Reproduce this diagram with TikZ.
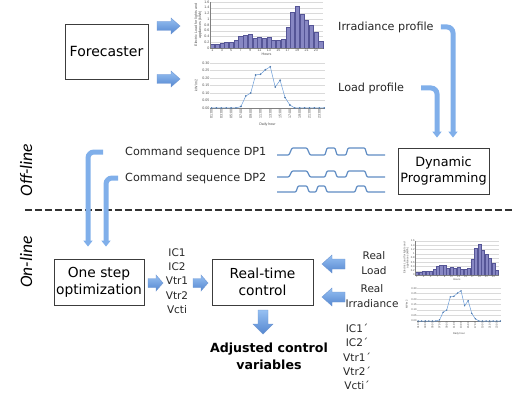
\documentclass[tikz,border=0pt]{standalone}
\usepackage{fontspec}
\setmainfont{DejaVu Sans}
\newfontfamily\chartfont{Liberation Sans}
\newfontfamily\sidefont{Carlito}
\usetikzlibrary{arrows.meta}

\definecolor{arrtop}{RGB}{150,192,242}
\definecolor{arrbot}{RGB}{85,135,208}
\definecolor{arredge}{RGB}{110,150,210}
\definecolor{tubec}{RGB}{128,175,234}
\definecolor{wavec}{RGB}{95,140,195}
\definecolor{barfill}{RGB}{135,135,195}
\definecolor{baredge}{RGB}{85,85,150}
\definecolor{linec}{RGB}{105,155,215}
\definecolor{gridc}{RGB}{218,218,218}
\definecolor{boxedge}{RGB}{60,60,60}

\tikzset{
  box/.style={draw=boxedge, line width=0.8pt, align=center, inner sep=0pt},
  lbl/.style={font=\fontsize{11.2}{13}\selectfont, inner sep=0pt, text=black!85},
  smalltxt/.style={font=\fontsize{10.5}{14.3}\selectfont, inner sep=0pt, align=center, text=black!85},
  tube/.style={draw=tubec, line width=5pt, rounded corners=6pt, -{Triangle[width=9pt,length=6pt]}},
  wave/.style={draw=wavec, line width=1.2pt, rounded corners=1pt},
  barrow/.style={top color=arrtop, bottom color=arrbot, draw=arredge, line width=0.4pt},
  ctick/.style={font=\chartfont\fontsize{3.6}{4}\selectfont, inner sep=0.5pt, text=black!70},
}

% x y angle length headhalfwidth shafthalfwidth headlength
\newcommand\blockarrow[7]{%
  \begin{scope}[shift={(#1,#2)}, rotate=#3]
    \path[barrow] (0,-#6) -- ({#4-#7},-#6) -- ({#4-#7},-#5) -- (#4,0) -- ({#4-#7},#5) -- ({#4-#7},#6) -- (0,#6) -- cycle;
  \end{scope}}

\newcommand\mybarchart{%
  \foreach \k in {1,...,8} \draw[gridc, line width=0.3pt] (0,{\k*5.75}) -- (113,{\k*5.75});
  \foreach \h [count=\i from 0] in {0.093,0.093,0.107,0.121,0.121,0.164,0.25,0.286,0.293,0.214,0.229,0.214,0.229,0.179,0.164,0.193,0.464,0.786,0.907,0.736,0.607,0.5,0.343,0.143}
    \filldraw[fill=barfill, draw=baredge, line width=0.25pt] ({\i*4.708+0.3},0) rectangle ({\i*4.708+4.408},{\h*46});
  \draw[black!50, line width=0.3pt] (0,46) -- (0,0) -- (113,0);
  \foreach \v [count=\k from 0] in {0,0.2,0.4,0.6,0.8,1,1.2,1.4,1.6} \node[ctick, anchor=east] at (0,{\k*5.75}) {\v};
  \foreach \n [count=\i from 0] in {1,3,5,7,9,11,13,15,17,19,21,23} \node[ctick, anchor=north] at ({\i*9.417+2.354},0) {\n};
  \node[ctick, anchor=north] at (56.5,-4.5) {Hours};
  \node[ctick, rotate=90, align=center, anchor=south] at (-7.5,23) {Electric Load for lights and\\appliances (kWh)};
}

\newcommand\mylinechart{%
  \foreach \k in {1,...,6} \draw[gridc, line width=0.3pt] (0,{\k*7.5}) -- (115,{\k*7.5});
  \draw[black!50, line width=0.3pt] (0,0) -- (115,0);
  \draw[linec, line width=0.5pt] plot[mark=*, mark size=0.55pt, mark options={fill=linec!80!black, draw=linec!80!black}] coordinates {(1.5,0) (6.4,0) (11.3,0) (16.2,0) (21.1,0) (26.0,0) (30.9,1.5) (35.8,12) (40.7,15) (45.6,33) (50.5,33.75) (55.4,38.25) (60.3,41.25) (65.2,21) (70.1,27.75) (75.0,10.5) (79.9,3) (84.8,0) (89.7,0) (94.6,0) (99.5,0) (104.4,0) (109.3,0) (114.2,0)};
  \foreach \v [count=\k from 0] in {0.00,0.05,0.10,0.15,0.20,0.25,0.30} \node[ctick, anchor=east] at (0,{\k*7.5}) {\v};
  \foreach \n [count=\i from 0] in {01:00,03:00,05:00,07:00,09:00,11:00,13:00,15:00,17:00,19:00,21:00,23:00}
    \node[ctick, rotate=90, anchor=east] at ({1.5+\i*9.8},-1) {\n};
  \node[ctick] at (57.5,-17) {Daily hour};
  \node[ctick, rotate=90] at (-14,22.5) {kW/m2};
}

\begin{document}
\begin{tikzpicture}[x=1pt, y=-1pt]
\useasboundingbox (0,0) rectangle (520,396);

% ---- boxes
\node[box, minimum width=83pt, minimum height=55pt, font=\fontsize{14}{16}\selectfont] (fc) at (106.5,51.5) {Forecaster};
\node[box, minimum width=91pt, minimum height=46pt, font=\fontsize{12.8}{16}\selectfont] (dp) at (443.5,171) {Dynamic\\Programming};
\node[box, minimum width=90pt, minimum height=46pt, font=\fontsize{13.8}{17}\selectfont] (opt) at (99,282) {One step\\optimization};
\node[box, minimum width=101pt, minimum height=46pt, font=\fontsize{13.8}{17}\selectfont] (rt) at (262.5,282) {Real-time\\control};

% ---- charts
\begin{scope}[shift={(210,48)}, y=1pt] \mybarchart \end{scope}
\begin{scope}[shift={(210,108)}, y=1pt] \mylinechart \end{scope}
\begin{scope}[shift={(415,275)}, y=1pt, scale=0.74, transform shape] \mybarchart \end{scope}
\begin{scope}[shift={(417,321)}, y=1pt, scale=0.73, transform shape] \mylinechart \end{scope}

% ---- labels
\node[lbl, anchor=west] (irr) at (338,27) {Irradiance profile};
\node[lbl, anchor=west] (lp) at (338,88) {Load profile};
\node[lbl, anchor=west] (dp1) at (125,152) {Command sequence DP1};
\node[lbl, anchor=west] (dp2) at (125,178) {Command sequence DP2};
\node[smalltxt] (ic) at (177,281) {IC1\\IC2\\Vtr1\\Vtr2\\Vcti};
\node[smalltxt, font=\fontsize{10.5}{15.5}\selectfont] (rl) at (374,263) {Real\\Load};
\node[smalltxt, font=\fontsize{10.5}{15}\selectfont] (ri) at (372,296) {Real\\Irradiance};
\node[smalltxt] (icp) at (357,357) {IC1´\\IC2´\\Vtr1´\\Vtr2´\\Vcti´};
\node[font=\bfseries\fontsize{12.6}{17}\selectfont, align=center, inner sep=0pt] (adj) at (269,356) {Adjusted control\\variables};
\node[rotate=90, font=\sidefont\itshape\fontsize{17.5}{18}\selectfont, inner sep=0pt] (off) at (26,170) {Off-line};
\node[rotate=90, font=\sidefont\itshape\fontsize{17.5}{18}\selectfont, inner sep=0pt] (on) at (26,262) {On-line};

% ---- dashed separator
\coordinate (sepL) at (25,210);
\coordinate (sepR) at (515,210);
\draw[line width=1.8pt, black!80, dash pattern=on 6.5pt off 3.5pt] (sepL) -- (sepR);

% ---- command waves
\draw[wave] (277,155) -- (289,155) -- (292,148) -- (307,148) -- (310,155) -- (325,155) -- (327,148) -- (335,148) -- (337,155) -- (346,155) -- (348,148) -- (365,148) -- (367,155) -- (385,155);
\draw[wave] (277,177) -- (289,177) -- (292,171) -- (307,171) -- (310,177) -- (325,177) -- (327,171) -- (335,171) -- (337,177) -- (346,177) -- (348,171) -- (365,171) -- (367,177) -- (385,177);
\draw[wave] (277,192) -- (296,192) -- (298,186) -- (307,186) -- (309,192) -- (316,192) -- (318,186) -- (325,186) -- (327,192) -- (355,192) -- (357,186) -- (365,186) -- (367,192) -- (385,192);

% ---- bent tubes
\draw[tube] ([xshift=7pt]irr.east) -| ([shift={(9.5pt,10pt)}]dp.north);
\draw[tube] ([xshift=17pt]lp.east) -| ([shift={(-6.5pt,10pt)}]dp.north);
\draw[tube] ([xshift=-22pt]dp1.west) -| ([shift={(-11pt,12pt)}]opt.north);
\draw[tube] ([xshift=-7pt]dp2.west) -| ([shift={(7pt,12pt)}]opt.north);

% ---- block arrows
\blockarrow{157}{26}{0}{23}{8}{4.5}{9}
\blockarrow{157}{79}{0}{23}{8}{4.5}{9}
\blockarrow{148}{283}{0}{15}{8}{4.5}{7}
\blockarrow{193}{283}{0}{15}{8}{4.5}{7}
\blockarrow{263}{310}{-90}{24}{10}{5}{10}
\blockarrow{345}{264}{180}{23}{9}{5}{10}
\blockarrow{345}{297}{180}{23}{9}{5}{10}
\end{tikzpicture}
\end{document}
